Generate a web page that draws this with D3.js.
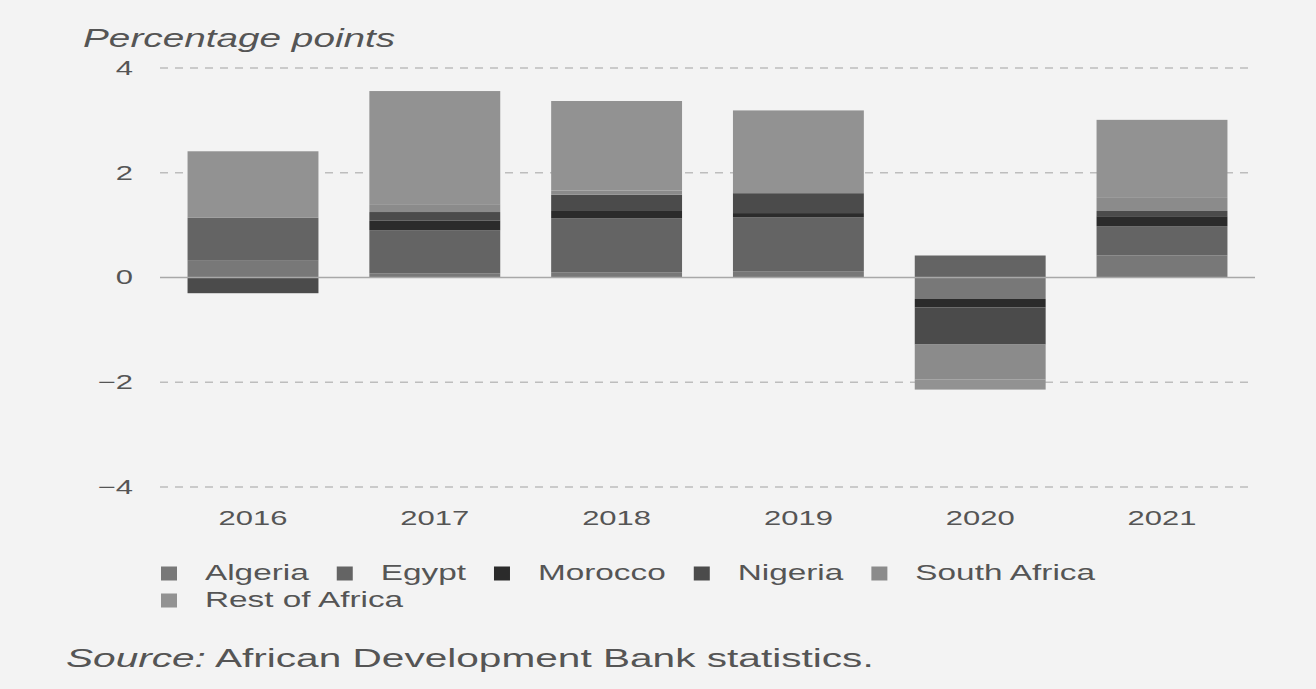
<!DOCTYPE html>
<html>
<head>
<meta charset="utf-8">
<script src="https://cdn.jsdelivr.net/npm/d3@7"></script>
<style>
  html, body { margin: 0; padding: 0; background: #f3f3f3; }
  svg { display: block; }
  text { font-family: "Liberation Sans", Arial, sans-serif; fill: #555; }
</style>
</head>
<body>
<svg id="chart" width="1316" height="689"></svg>
<script>
// Contributions to growth, percentage points
const years = ["2016", "2017", "2018", "2019", "2020", "2021"];
const algeria     = [0.32, 0.08, 0.10, 0.12, -0.41, 0.42];
const egypt       = [0.82, 0.82, 1.03, 1.03, 0.42, 0.56];
const morocco     = [0.00, 0.19, 0.14, 0.08, -0.16, 0.19];
const nigeria     = [-0.30, 0.16, 0.31, 0.38, -0.71, 0.10];
const southAfrica = [0.00, 0.15, 0.08, 0.00, -0.67, 0.25];
const restOfAfrica = [1.27, 2.16, 1.71, 1.58, -0.19, 1.49];
const seriesNames = ["Algeria", "Egypt", "Morocco", "Nigeria", "South Africa", "Rest of Africa"];
const yTicks = [-4, -2, 0, 2, 4];

const colors = ["#787878", "#646464", "#2b2b2b", "#4b4b4b", "#8b8b8b", "#929292"];
const SX = 1.55; // horizontal text stretch

const seriesValues = [algeria, egypt, morocco, nigeria, southAfrica, restOfAfrica];
const rows = years.map((y, i) => {
  const r = { year: y };
  seriesNames.forEach((k, j) => r[k] = seriesValues[j][i]);
  return r;
});

const svg = d3.select("#chart");
const x0 = 160, x1 = 1255;

const x = d3.scaleBand().domain(years).range([162.1, 1252.9])
  .paddingInner(0.28).paddingOuter(0.14);
const y = d3.scaleLinear().domain([-4, 4]).range([487, 68]);

function stretch(sel) {
  sel.each(function () {
    const t = d3.select(this);
    const xv = +t.attr("x") || 0;
    t.attr("x", xv / SX).attr("transform", `scale(${SX},1)`);
  });
}

// grid lines
svg.append("g").selectAll("line")
  .data(yTicks.filter(d => d !== 0))
  .join("line")
  .attr("x1", x0).attr("x2", x1)
  .attr("y1", d => y(d)).attr("y2", d => y(d))
  .attr("stroke", "#bdbdbd").attr("stroke-width", 1.5)
  .attr("stroke-dasharray", "8,7");

// y axis labels
const yAxis = svg.append("g").attr("transform", `translate(133,0)`)
  .call(d3.axisLeft(y).tickValues(yTicks).tickSize(0).tickPadding(0).tickFormat(d3.format("d")));
yAxis.select(".domain").remove();
yAxis.selectAll("text").attr("font-size", 20).style("fill", "#555")
  .attr("font-family", "Liberation Sans, Arial, sans-serif");
stretch(yAxis.selectAll("text"));

// stacked bars
const stack = d3.stack().keys(seriesNames).offset(d3.stackOffsetDiverging);
const stacked = stack(rows);

svg.append("g").selectAll("g")
  .data(stacked)
  .join("g")
  .attr("fill", (d, i) => colors[i])
  .selectAll("rect")
  .data(d => d)
  .join("rect")
  .attr("x", d => x(d.data.year))
  .attr("width", x.bandwidth())
  .attr("y", d => y(Math.max(d[0], d[1])))
  .attr("height", d => Math.abs(y(d[0]) - y(d[1])));

// zero line
svg.append("line")
  .attr("x1", x0).attr("x2", x1)
  .attr("y1", y(0)).attr("y2", y(0))
  .attr("stroke", "#a8a8a8").attr("stroke-width", 1.5);

// x axis labels
const xAxis = svg.append("g").attr("transform", `translate(0,510)`)
  .call(d3.axisBottom(x).tickSize(0).tickPadding(0));
xAxis.select(".domain").remove();
xAxis.selectAll("text").attr("font-size", 20).attr("dy", "0.75em").style("fill", "#555")
  .attr("font-family", "Liberation Sans, Arial, sans-serif");
stretch(xAxis.selectAll("text"));

// axis title
svg.append("text")
  .attr("x", 83).attr("y", 47)
  .attr("font-size", 25).attr("font-style", "italic")
  .text("Percentage points")
  .call(stretch);

// legend
const legend = svg.append("g");
let lx = 160, ly = 573;
seriesNames.forEach((name, i) => {
  const g = legend.append("g");
  const t = g.append("text")
    .attr("x", lx + 45).attr("y", 0)
    .attr("font-size", 21.5)
    .text(name);
  const w = t.node().getComputedTextLength() * SX;
  if (lx + 45 + w > 1140) {
    lx = 160; ly += 27;
    t.attr("x", lx + 45);
  }
  t.attr("y", ly + 7.5);
  stretch(t);
  g.insert("rect", "text")
    .attr("x", lx + 1).attr("y", ly - 6.5)
    .attr("width", 16).attr("height", 14)
    .attr("fill", colors[i]);
  lx += 45 + w + 27;
});

// source note
const src = svg.append("text").attr("x", 66).attr("y", 667).attr("font-size", 26.2);
src.append("tspan").attr("font-style", "italic").text("Source:");
src.append("tspan").text(" African Development Bank statistics.");
stretch(src);
</script>
</body>
</html>
